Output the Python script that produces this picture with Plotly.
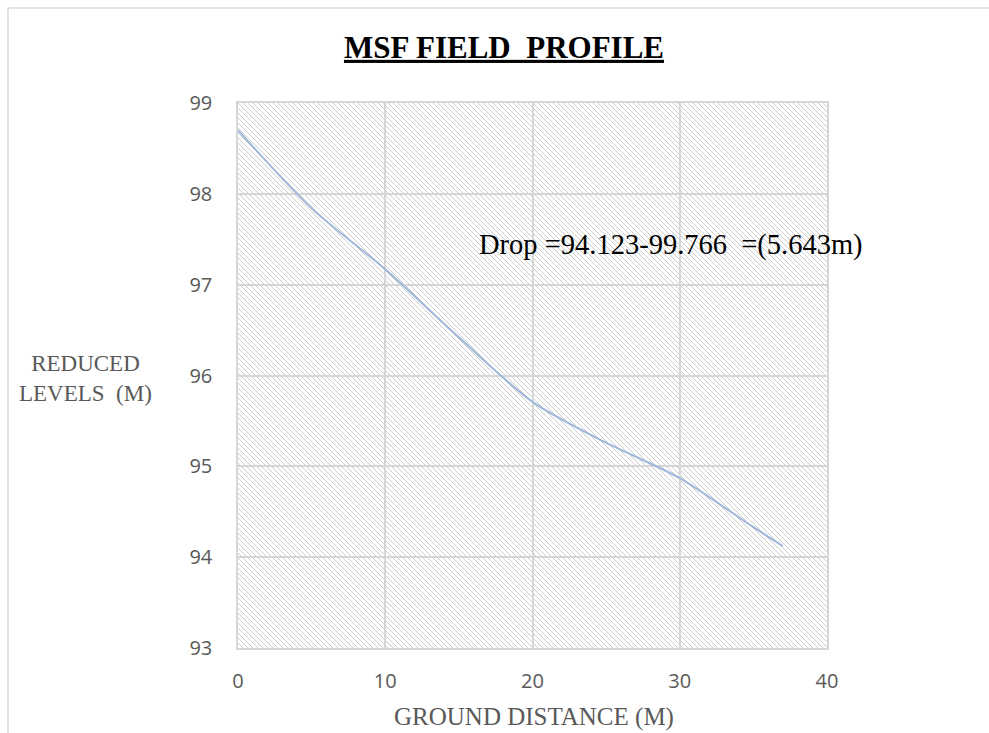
import numpy as np
import plotly.graph_objects as go

# ---- data ----
distance = [0, 5, 10, 15, 20, 25, 30, 35, 37]
reduced_level = [98.70, 97.84, 97.17, 96.42, 95.71, 95.26, 94.87, 94.33, 94.123]
x_ticks = [0, 10, 20, 30, 40]
y_ticks = [93, 94, 95, 96, 97, 98, 99]
x_range = [0, 40]
y_range = [93, 99]
title_text = "MSF FIELD&nbsp; PROFILE"
x_title = "GROUND DISTANCE (M)"
y_title = "REDUCED<br>LEVELS&nbsp; (M)"
note_text = "Drop =94.123-99.766 &nbsp;=(5.643m)"

# ---- layout geometry ----
W, H = 989, 733
ML, MR, MT, MB = 238, 162, 103, 85
PW, PH = W - ML - MR, H - MT - MB

GRID = "#d6d6d6"
TICKC = "#595959"

fig = go.Figure()
fig.add_trace(go.Scatter(
    x=distance, y=reduced_level, mode="lines",
    line=dict(color="#9fb7da", width=2, shape="spline", smoothing=0.8),
    hoverinfo="skip", showlegend=False))

# hatch pattern (decorative background), built in paper coordinates
step = 5.0
segs = []
for c in np.arange(-PH, PW, step):
    u0 = max(0.0, c)
    u1 = min(float(PW), PH + c)
    if u1 <= u0:
        continue
    v0, v1 = u0 - c, u1 - c
    segs.append("M%.5f,%.5f L%.5f,%.5f" % (u0 / PW, 1 - v0 / PH, u1 / PW, 1 - v1 / PH))
hatch_path = " ".join(segs)

shapes = [
    dict(type="path", xref="paper", yref="paper", path=hatch_path,
         line=dict(color="#cdcdcd", width=1), layer="below"),
    dict(type="rect", xref="paper", yref="paper",
         x0=(8 - ML) / PW, x1=2.0, y0=-1.0, y1=(MT + PH - 8) / PH,
         line=dict(color="#d9d9d9", width=1.5), fillcolor="rgba(0,0,0,0)", layer="below"),
]

annotations = [
    dict(text=y_title, xref="paper", yref="paper",
         x=(85 - ML) / PW, y=(MT + PH - 378) / PH, xanchor="center", yanchor="middle",
         showarrow=False, align="center",
         font=dict(family="Liberation Serif", size=23, color=TICKC)),
    dict(text=x_title, xref="paper", yref="paper",
         x=(534 - ML) / PW, y=(MT + PH - 717) / PH, xanchor="center", yanchor="middle",
         showarrow=False,
         font=dict(family="Liberation Serif", size=25, color=TICKC)),
    dict(text=note_text, xref="paper", yref="paper",
         x=(671 - ML) / PW, y=(MT + PH - 245) / PH, xanchor="center", yanchor="middle",
         showarrow=False,
         font=dict(family="Liberation Serif", size=28.5, color="#000000")),
]

fig.update_layout(
    width=W, height=H,
    margin=dict(l=ML, r=MR, t=MT, b=MB, pad=0),
    paper_bgcolor="white", plot_bgcolor="rgba(0,0,0,0)",
    title=dict(text="<b><u>" + title_text + "</u></b>", xref="container", yref="container",
               x=504 / W, y=1 - 47 / H, xanchor="center", yanchor="middle",
               font=dict(family="Liberation Serif", size=31, color="#000000")),
    shapes=shapes, annotations=annotations,
    xaxis=dict(range=x_range, tickvals=x_ticks, showgrid=True, gridcolor=GRID, gridwidth=1.5,
               showline=True, mirror=True, linecolor=GRID, linewidth=1.5,
               zeroline=False, ticks="", ticklabelstandoff=14,
               tickfont=dict(family="Open Sans", size=20, color=TICKC)),
    yaxis=dict(range=y_range, tickvals=y_ticks, showgrid=True, gridcolor=GRID, gridwidth=1.5,
               showline=True, mirror=True, linecolor=GRID, linewidth=1.5,
               zeroline=False, ticks="", ticklabelstandoff=20,
               tickfont=dict(family="Open Sans", size=20, color=TICKC)),
    showlegend=False,
)

fig.write_html("out.html")
